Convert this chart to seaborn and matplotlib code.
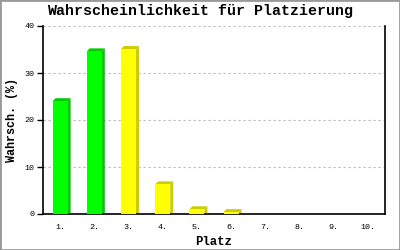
import matplotlib
matplotlib.use("Agg")
import matplotlib.pyplot as plt
import seaborn as sns
import pandas as pd
from matplotlib.patches import Polygon, Rectangle

places = ["1.", "2.", "3.", "4.", "5.", "6.", "7.", "8.", "9.", "10."]
probability = [24.0, 34.6, 35.1, 6.3, 1.0, 0.4, 0.0, 0.0, 0.0, 0.0]
front_colors = ["#00ff00", "#00ff00", "#ffff00", "#ffff00", "#ffff00", "#ffff00",
                "#ffff00", "#ffff00", "#ffff00", "#ffff00"]
side_colors = ["#00cc00", "#00cc00", "#cccc00", "#cccc00", "#cccc00", "#cccc00",
               "#cccc00", "#cccc00", "#cccc00", "#cccc00"]
y_ticks = [0, 10, 20, 30, 40]

sns.set_style("white")
plt.rcParams["font.family"] = ["Liberation Mono", "DejaVu Sans Mono"]
plt.rcParams["text.color"] = "black"
plt.rcParams["axes.labelcolor"] = "black"
plt.rcParams["xtick.color"] = "black"
plt.rcParams["ytick.color"] = "black"

df = pd.DataFrame({"Platz": places, "p": probability})

fig = plt.figure(figsize=(4, 2.5), dpi=100)
ax = fig.add_axes([43 / 400, 36 / 250, 342 / 400, 188 / 250])

sns.barplot(data=df, x="Platz", y="p", hue="Platz", palette=front_colors,
            legend=False, width=0.44, ax=ax, saturation=1, linewidth=0, zorder=3)

# pseudo-3D side and top faces
dx = 3 / 34.2
dy = 3 / 4.7
for patch, val, sc in zip(ax.patches, probability, side_colors):
    if val <= 0:
        continue
    x0 = patch.get_x()
    w = patch.get_width()
    h = patch.get_height()
    side = Polygon([(x0 + w, 0), (x0 + w + dx, 0), (x0 + w + dx, h + dy), (x0 + w, h)],
                   closed=True, facecolor=sc, edgecolor="none", zorder=2)
    top = Polygon([(x0, h), (x0 + dx, h + dy), (x0 + w + dx, h + dy), (x0 + w, h)],
                  closed=True, facecolor=sc, edgecolor="none", zorder=2)
    ax.add_patch(side)
    ax.add_patch(top)

ax.set_xlim(-0.5, 9.5)
ax.set_ylim(0, 40)
ax.set_yticks(y_ticks)
ax.set_yticklabels([str(t) for t in y_ticks])
ax.yaxis.grid(True, color="#bbbbbb", linestyle=(0, (2, 2.5)), linewidth=0.8, zorder=0)
ax.xaxis.grid(False)
ax.set_axisbelow(True)

for s in ["left", "bottom", "right"]:
    ax.spines[s].set_visible(True)
    ax.spines[s].set_color("black")
    ax.spines[s].set_linewidth(1.2)
ax.spines["top"].set_visible(False)

ax.tick_params(axis="y", which="both", left=True, length=4, width=1, color="black",
               labelsize=6, pad=2)
ax.tick_params(axis="x", bottom=False, labelsize=6, pad=4)

ax.set_xlabel("Platz", fontsize=8.8, fontweight="bold", labelpad=3)
ax.set_ylabel("Wahrsch. (%)", fontsize=8.5, fontweight="bold", labelpad=5)
fig.suptitle("Wahrscheinlichkeit für Platzierung", fontsize=10.8, fontweight="bold",
             x=0.5, y=0.985)

fig.patches.append(Rectangle((0, 0), 1, 1, transform=fig.transFigure, fill=False,
                             edgecolor="#999999", linewidth=2, zorder=10))

fig.savefig("out.png", dpi=100)
